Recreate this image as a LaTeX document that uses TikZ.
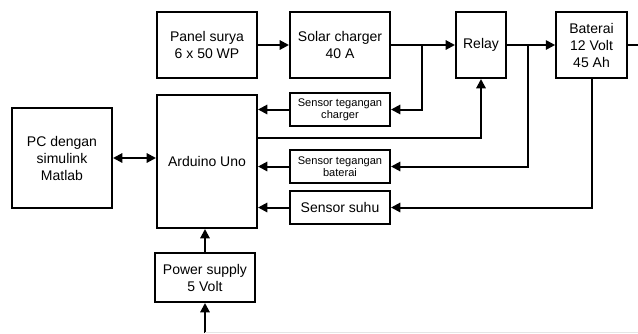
\documentclass[tikz,border=0pt]{standalone}
\usepackage{fontspec}
\setmainfont{Liberation Sans}
\usepackage{tikz}
\usetikzlibrary{arrows.meta,positioning,calc}

\begin{document}
\begin{tikzpicture}[x=0.75pt,y=-0.75pt,line width=1.5pt,
    >={Triangle[length=7pt,width=7pt]},
    block/.style={draw,rectangle,minimum width=75pt,minimum height=49.5pt,align=center,inner sep=1pt,font=\fontsize{10.5}{12.75}\selectfont},
    sensor/.style={draw,rectangle,minimum width=75pt,minimum height=24.75pt,align=center,inner sep=1pt,font=\fontsize{8.3}{9.3}\selectfont},
    arrow/.style={->},
    dbl/.style={<->}
]
  \useasboundingbox (0,0) rectangle (638,333);

  % Top row: energy path
  \node[block] (panel) at (207,45) {Panel surya\\6 x 50 WP};
  \node[block] (charger) at (340,45) {Solar charger\\40 A};
  \node[block,minimum width=37.5pt] (relay) at (481,45) {Relay};
  \node[block,minimum width=53pt] (baterai) at (591.5,45) {Baterai\\12 Volt\\45 Ah};

  % Controller, PC and power
  \node[block,minimum height=99.75pt] (arduino) at (207,161.5) {Arduino Uno};
  \node[block,minimum height=75pt] (pc) at (62,158) {PC dengan\\simulink\\Matlab};
  \node[block,minimum height=36.75pt] (psu) at (205,277.5) {Power supply\\5 Volt};

  % Sensors
  \node[sensor] (sch) at (340,109.5) {Sensor tegangan\\charger};
  \node[sensor] (sbat) at (340,166.5) {Sensor tegangan\\baterai};
  \node[sensor,font=\fontsize{10.5}{12.75}\selectfont] (ssuhu) at (340,207.5) {Sensor suhu};

  % Junctions and free ends
  \coordinate (jc) at (422,45);
  \coordinate (jb) at (528,45);
  \coordinate (ctl) at (257,138);
  \coordinate (out) at (638,45);
  \coordinate (src) at (205,333);

  % Power flow
  \draw[arrow] (panel) -- (charger);
  \draw[arrow] (charger) -- (relay);
  \draw[arrow] (relay) -- (baterai);
  \draw (baterai.east) -- (out);

  % Measurement lines
  \draw[arrow] (jc) |- (sch.east);
  \draw[arrow] (jb) |- (sbat.east);
  \draw[arrow] (baterai.south) |- (ssuhu.east);
  \draw[arrow] (sch.west) -- (sch.west -| arduino.east);
  \draw[arrow] (sbat.west) -- (sbat.west -| arduino.east);
  \draw[arrow] (ssuhu.west) -- (ssuhu.west -| arduino.east);

  % Control of relay
  \draw[arrow] (ctl) -| (relay.south);

  % PC link and supply
  \draw[dbl] (pc.east) -- (pc.east -| arduino.west);
  \draw[arrow] (psu.north) -- (psu.north |- arduino.south);
  \draw[arrow] (src) -- (psu.south);
  \draw[gray!20,line width=0.6pt] ($(src)+(0,-0.6)$) -- ($(src -| out)+(0,-0.6)$);
\end{tikzpicture}
\end{document}
